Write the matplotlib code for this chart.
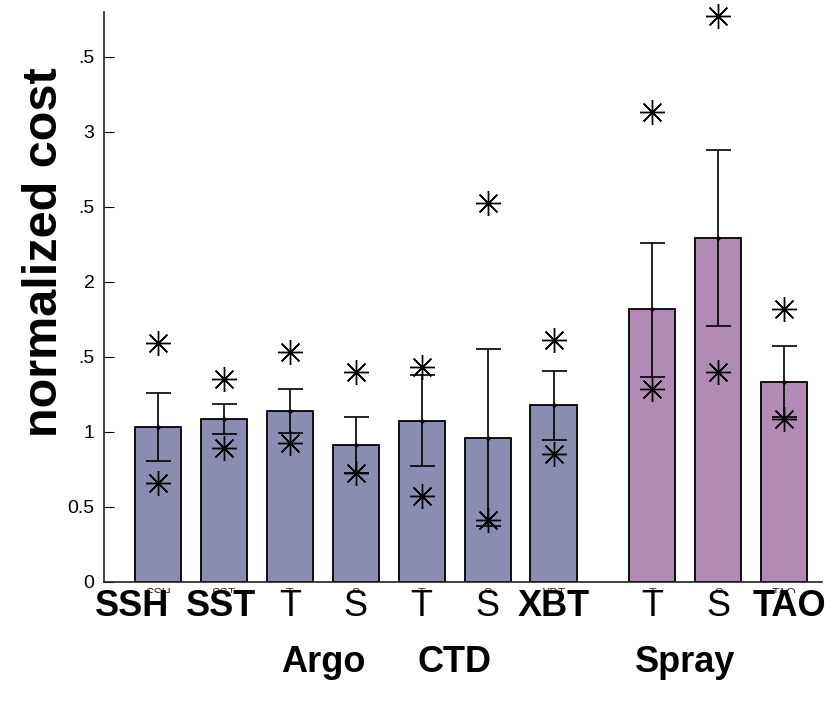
import matplotlib.pyplot as plt
from matplotlib.transforms import Bbox, TransformedBbox, blended_transform_factory

plt.rcParams['font.family'] = ['Liberation Sans', 'DejaVu Sans']

# bar positions (gap before Spray group)
positions = [1, 2, 3, 4, 5, 6, 7, 8.5, 9.5, 10.5]
tick_labels = ["SSH", "SST", "T", "S", "T", "S", "XBT", "T", "S", "TAO"]
bold_labels = [True, True, False, False, False, False, True, False, False, True]
# where the big labels sit (SSH/SST pushed apart so they do not collide)
label_pos = [0.6, 1.95, 3, 4, 5, 6, 7, 8.5, 9.5, 10.58]
means = [1.033, 1.087, 1.142, 0.913, 1.076, 0.962, 1.178, 1.818, 2.291, 1.336]
err_hi = [1.262, 1.187, 1.287, 1.100, 1.380, 1.553, 1.409, 2.262, 2.878, 1.573]
err_lo = [0.807, 0.985, 0.996, 0.726, 0.773, 0.372, 0.945, 1.369, 1.707, 1.100]
star_hi = [1.593, 1.351, 1.531, 1.402, 1.436, 2.524, 1.613, 3.135, 3.775, 1.818]
star_lo = [0.662, 0.895, 0.929, 0.724, 0.573, 0.413, 0.853, 1.287, 1.398, 1.085]
groups = ["Argo", "CTD", "Spray"]
group_pos = [3.5, 5.5, 9.0]

bar_colors = ["#8b8cb1"] * 7 + ["#b18bb3"] * 3
yticks = [0, 0.5, 1, 1.5, 2, 2.5, 3, 3.5]
ytick_text = ["0", "0.5", "1", ".5", "2", ".5", "3", ".5"]

fig = plt.figure(figsize=(8.4, 7.05), dpi=100)
ax = fig.add_axes([0.124, 0.1745, 0.855, 0.8085])

ax.bar(positions, means, width=0.7, color=bar_colors, edgecolor="black", linewidth=1.3, zorder=2)
lower = [m - lo for m, lo in zip(means, err_lo)]
upper = [hi - m for m, hi in zip(means, err_hi)]
ax.errorbar(positions, means, yerr=[lower, upper], fmt='.', color="black", markersize=4,
            ecolor="black", elinewidth=1.2, capsize=9, capthick=1.2, zorder=3)
for vals in (star_hi, star_lo):
    ax.plot(positions, vals, linestyle="none", marker=(8, 2, 0), markersize=18,
            color="black", markeredgewidth=1.0, zorder=4, clip_on=False)

ax.set_xlim(0.18, 11.08)
ax.set_ylim(0, 3.8)
ax.set_yticks(yticks)
ax.set_yticklabels(ytick_text)
ax.tick_params(axis="y", direction="in", length=7, labelsize=14, pad=7)
ax.set_xticks(positions)
ax.set_xticklabels([])
ax.tick_params(axis="x", direction="in", length=0)
for side in ["top", "right"]:
    ax.spines[side].set_visible(False)
for side in ["left", "bottom"]:
    ax.spines[side].set_linewidth(1.2)
    ax.spines[side].set_color("#222222")

ax.set_ylabel("normalized cost", fontsize=35, fontweight="bold")
ax.yaxis.set_label_coords(-0.052, 0.579)

trans = blended_transform_factory(ax.transData, fig.transFigure)
# small original tick labels, mostly hidden below the axis
clip = TransformedBbox(Bbox.from_extents(0, 1 - 593 / 705, 1, 1 - 587 / 705), fig.transFigure)
for x, lab in zip(positions, tick_labels):
    t = ax.text(x, 1 - 588 / 705, lab, transform=trans, ha="center", va="top",
                fontsize=9, color="#333333", clip_on=True)
    t.set_clip_box(clip)

for x, lab, b in zip(label_pos, tick_labels, bold_labels):
    ax.text(x, 1 - 606 / 705, lab, transform=trans, ha="center", va="center",
            fontsize=26, fontweight="bold" if b else "normal", clip_on=False)
for x, lab in zip(group_pos, groups):
    ax.text(x, 1 - 662 / 705, lab, transform=trans, ha="center", va="center",
            fontsize=26, fontweight="bold", clip_on=False)

fig.savefig("out.png", dpi=100)
